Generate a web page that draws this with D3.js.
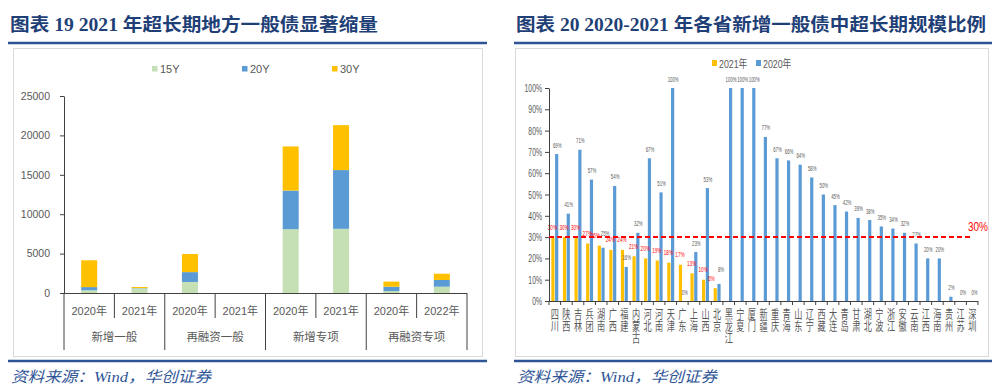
<!DOCTYPE html>
<html>
<head>
<meta charset="utf-8">
<script src="https://cdnjs.cloudflare.com/ajax/libs/d3/7.8.5/d3.min.js"></script>
<style>
body{margin:0;background:#fff;}
svg text{font-family:"Liberation Sans",Arial,"Noto Sans CJK SC",sans-serif;}
.title{font-family:"Liberation Serif","Noto Sans CJK SC",serif !important;font-weight:bold;font-size:18px;fill:#1F3F77;}
.src{font-family:"Liberation Serif","Noto Sans CJK SC",serif !important;font-style:italic;font-size:15px;fill:#2F5597;}
</style>
</head>
<body>
<div id="chart"></div>
<script>
// left chart: super long term local bonds, 15Y/20Y/30Y stacked
var leftGroups = ["新增一般", "再融资一般", "新增专项", "再融资专项"];
var leftYears = ["2020年", "2021年", "2020年", "2021年", "2020年", "2021年", "2020年", "2022年"];
var s15 = [350, 600, 1400, 0, 8100, 8150, 250, 800];
var s20 = [400, 30, 1250, 0, 4900, 7450, 550, 850];
var s30 = [3400, 130, 2300, 0, 5600, 5700, 650, 800];
var leftSeries = ["15Y", "20Y", "30Y"];
var leftTicks = [0, 5000, 10000, 15000, 20000, 25000];

// right chart: share by province
var provinces = ["四川","陕西","吉林","兵团","湖南","广西","福建","内蒙古","河北","河南","天津","广东","上海","山西","北京","黑龙江","宁夏","厦门","新疆","重庆","青海","山东","辽宁","西藏","大连","青岛","甘肃","湖北","宁波","浙江","安徽","云南","江西","海南","贵州","江苏","深圳"];
var r2021 = [30,30,30,27,26,24,24,21,20,19,18,17,13,10,6,null,null,null,null,null,null,null,null,null,null,null,null,null,null,null,null,null,null,null,null,null,null];
var r2020 = [69,41,71,57,25,54,16,32,67,51,100,0,23,53,8,100,100,100,77,67,66,64,58,50,45,42,39,38,35,34,32,27,20,20,2,0,0];
var threshold = 30;

var W = 1000, H = 389;
var gray = "#595959";
var cols = {"15Y": "#C5E0B4", "20Y": "#5B9BD5", "30Y": "#FFC000"};

var svg = d3.select("#chart").append("svg")
    .attr("width", W)
    .attr("height", H);

function header(x0, x1, title, tw) {
  svg.append("text").attr("class", "title").attr("x", x0 + 2).attr("y", 31)
     .attr("textLength", tw).attr("lengthAdjust", "spacingAndGlyphs").text(title);
  svg.append("line").attr("x1", x0).attr("x2", x1).attr("y1", 43).attr("y2", 43)
     .attr("stroke", "#2F5496").attr("stroke-width", 2.5);
  svg.append("line").attr("x1", x0).attr("x2", x1).attr("y1", 361).attr("y2", 361)
     .attr("stroke", "#2F5496").attr("stroke-width", 2.5);
  svg.append("text").attr("class", "src").attr("x", x0 + 3).attr("y", 382)
     .attr("textLength", 200).attr("lengthAdjust", "spacingAndGlyphs").text("资料来源：Wind，华创证券");
}

header(8, 487, "图表 19  2021 年超长期地方一般债显著缩量", 368);
header(514, 992, "图表 20  2020-2021 年各省新增一般债中超长期规模比例", 470);

svg.append("rect").attr("x", 13.5).attr("y", 48.5).attr("width", 469).attr("height", 308)
   .attr("fill", "none").attr("stroke", "#d9d9d9");
svg.append("rect").attr("x", 515.5).attr("y", 48.5).attr("width", 473).attr("height", 308)
   .attr("fill", "none").attr("stroke", "#d9d9d9");

// ---------- left chart ----------
var gl = svg.append("g");
var x = d3.scaleBand().domain(d3.range(leftYears.length)).range([64, 467]);
var y = d3.scaleLinear().domain([0, 25000]).range([293, 96]);

var rows = leftYears.map(function(d, i) {
  return {i: i, "15Y": s15[i], "20Y": s20[i], "30Y": s30[i]};
});
var stacked = d3.stack().keys(leftSeries)(rows);

gl.selectAll(".layer").data(stacked).enter().append("g")
  .attr("fill", function(d) { return cols[d.key]; })
  .selectAll("rect").data(function(d) { return d; }).enter().append("rect")
  .attr("x", function(d) { return x(d.data.i) + x.bandwidth() / 2 - 8; })
  .attr("width", 16)
  .attr("y", function(d) { return y(d[1]); })
  .attr("height", function(d) { return y(d[0]) - y(d[1]); });

var yAxisL = gl.append("g").attr("transform", "translate(64,0)")
  .call(d3.axisLeft(y).tickValues(leftTicks).tickFormat(d3.format("d"))
    .tickSize(4).tickPadding(10).tickSizeOuter(0));
yAxisL.select(".domain").attr("stroke", "#404040");
yAxisL.selectAll("line").attr("stroke", "#404040");
yAxisL.selectAll("text").attr("fill", gray).style("font-size", "10.5px");

// multi-level category axis
gl.append("line").attr("x1", 64).attr("x2", 467).attr("y1", 293.5).attr("y2", 293.5).attr("stroke", "#404040");
d3.range(leftYears.length + 1).forEach(function(k) {
  var xx = k < leftYears.length ? x(k) : x.range()[1];
  gl.append("line").attr("x1", xx).attr("x2", xx).attr("y1", 293)
    .attr("y2", k % 2 === 0 ? 350 : 318).attr("stroke", "#404040");
});
gl.selectAll(".yr").data(leftYears).enter().append("text")
  .attr("x", function(d, i) { return x(i) + x.bandwidth() / 2; })
  .attr("y", 315).attr("text-anchor", "middle").attr("fill", gray)
  .style("font-size", "11px").text(function(d) { return d; });
gl.selectAll(".grp").data(leftGroups).enter().append("text")
  .attr("x", function(d, i) { return x(i * 2) + x.bandwidth(); })
  .attr("y", 341).attr("text-anchor", "middle").attr("fill", gray)
  .style("font-size", "11.5px").text(function(d) { return d; });

var legL = gl.selectAll(".leg").data(leftSeries).enter().append("g")
  .attr("transform", function(d, i) { return "translate(" + (152 + i * 90) + ",66)"; });
legL.append("rect").attr("width", 5.5).attr("height", 5.5).attr("fill", function(d) { return cols[d]; });
legL.append("text").attr("x", 8).attr("y", 7).attr("fill", gray).style("font-size", "11px")
  .text(function(d) { return d; });

// ---------- right chart ----------
var gr = svg.append("g");
var xr = d3.scaleBand().domain(provinces).range([549, 978]);
var bw = xr.bandwidth();
var xs = d3.scaleBand().domain(["2021", "2020"]).range([bw * 0.2, bw * 0.8]).paddingInner(0.15);
var yr = d3.scaleLinear().domain([0, 100]).range([301, 88]);

var rdata = provinces.map(function(p, i) {
  return {p: p, v21: r2021[i], v20: r2020[i]};
});
// labels of both bars at nearly the same height get pushed apart
function clash(d) { return d.v21 != null && Math.abs(d.v21 - d.v20) < 4; }

gr.selectAll(".b21").data(rdata.filter(function(d) { return d.v21 != null; })).enter().append("rect")
  .attr("x", function(d) { return xr(d.p) + xs("2021"); })
  .attr("width", xs.bandwidth())
  .attr("y", function(d) { return yr(d.v21); })
  .attr("height", function(d) { return yr(0) - yr(d.v21); })
  .attr("fill", "#FFC000");
gr.selectAll(".b20").data(rdata).enter().append("rect")
  .attr("x", function(d) { return xr(d.p) + xs("2020"); })
  .attr("width", xs.bandwidth())
  .attr("y", function(d) { return yr(d.v20); })
  .attr("height", function(d) { return yr(0) - yr(d.v20); })
  .attr("fill", "#5B9BD5");

// condensed labels
function narrow(sel, sx) {
  sel.attr("transform", function() {
    var t = d3.select(this);
    return "translate(" + t.attr("x") + "," + t.attr("y") + ") scale(" + sx + ",1)";
  }).attr("x", 0).attr("y", 0);
}

gr.selectAll(".l21").data(rdata.filter(function(d) { return d.v21 != null; })).enter().append("text")
  .attr("x", function(d) { return xr(d.p) + xs("2021") + xs.bandwidth() / 2 - (clash(d) ? 4 : 0.5); })
  .attr("y", function(d) { return yr(d.v21) - 7.5; })
  .attr("text-anchor", "middle").attr("fill", "#FF0000").style("font-size", "7px")
  .text(function(d) { return d.v21 + "%"; })
  .call(narrow, 0.66);
gr.selectAll(".l20").data(rdata).enter().append("text")
  .attr("x", function(d) { return xr(d.p) + xs("2020") + xs.bandwidth() / 2 + (clash(d) ? 2 : 0.5); })
  .attr("y", function(d) { return yr(d.v20) - (clash(d) ? 11.5 : 6.5); })
  .attr("text-anchor", "middle").attr("fill", gray).style("font-size", "6.5px")
  .text(function(d) { return d.v20 + "%"; })
  .call(narrow, 0.66);

var yAxisR = gr.append("g").attr("transform", "translate(549,0)")
  .call(d3.axisLeft(yr).ticks(10).tickSize(4).tickSizeOuter(0)
    .tickFormat(function(d) { return d + "%"; }));
yAxisR.select(".domain").attr("stroke", "#404040");
yAxisR.selectAll("line").attr("stroke", "#404040");
yAxisR.selectAll("text").attr("fill", gray).style("font-size", "11px")
  .attr("transform", "translate(-7,0) scale(0.62,1)").attr("x", 0);

gr.append("line").attr("x1", 549).attr("x2", 978).attr("y1", 301.5).attr("y2", 301.5).attr("stroke", "#404040");
provinces.concat([null]).forEach(function(p) {
  var xx = p ? xr(p) : xr.range()[1];
  gr.append("line").attr("x1", xx).attr("x2", xx).attr("y1", 301).attr("y2", 305).attr("stroke", "#404040");
});

provinces.forEach(function(p) {
  p.split("").forEach(function(ch, j) {
    gr.append("text").attr("x", xr(p) + bw / 2).attr("y", 319 + j * 12)
      .attr("text-anchor", "middle").attr("fill", gray).style("font-size", "12px")
      .text(ch).call(narrow, 0.68);
  });
});

gr.append("line").attr("x1", 549).attr("x2", 972)
  .attr("y1", yr(threshold)).attr("y2", yr(threshold))
  .attr("stroke", "#FF0000").attr("stroke-width", 2).attr("stroke-dasharray", "5,3");
gr.append("text").attr("x", 968).attr("y", yr(threshold) - 6).attr("fill", "#FF0000")
  .style("font-size", "12.5px").text(threshold + "%").call(narrow, 0.8);

var legR = gr.selectAll(".legr").data(["2021年", "2020年"]).enter().append("g")
  .attr("transform", function(d, i) { return "translate(" + (712 + i * 44) + ",60)"; });
legR.append("rect").attr("width", 5).attr("height", 6)
  .attr("fill", function(d, i) { return i === 0 ? "#FFC000" : "#5B9BD5"; });
legR.append("text").attr("x", 7).attr("y", 7.5).attr("fill", gray).style("font-size", "11px")
  .text(function(d) { return d; }).call(narrow, 0.8);
</script>
</body>
</html>
